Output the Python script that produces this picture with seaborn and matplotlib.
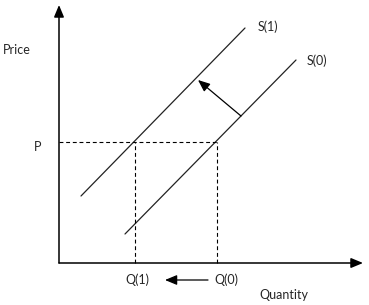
import matplotlib
matplotlib.use("Agg")
import matplotlib.pyplot as plt
import seaborn as sns
import pandas as pd

sns.set_theme(style="white")
plt.rcParams['font.family'] = ['Lato', 'DejaVu Sans']

# Diagram values (quantity, price) in arbitrary units
s0_q = [66, 237]
s0_p = [29, 203]
s1_q = [22, 186]
s1_p = [67, 235]
price_p = 121
q1 = 76
q0 = 158
shift_from = (182, 147)
shift_to = (139, 183)
axis_q_max = 304
axis_p_max = 258

df = pd.DataFrame({
    "Quantity": s0_q + s1_q,
    "Price": s0_p + s1_p,
    "curve": ["S(0)", "S(0)", "S(1)", "S(1)"],
})

fig = plt.figure(figsize=(3.69, 3.05), dpi=100)
ax = fig.add_axes([0, 0, 1, 1])
ax.set_xlim(-59, 310)
ax.set_ylim(-42, 263)
ax.axis("off")

sns.lineplot(data=df, x="Quantity", y="Price", units="curve", estimator=None,
             color="#222222", lw=0.9, ax=ax, legend=False)

# axes with arrows
ax.annotate("", xy=(0, axis_p_max), xytext=(0, 0),
            arrowprops=dict(arrowstyle="-|>,head_length=0.6,head_width=0.25", color="black", lw=1.1, shrinkA=0, shrinkB=0))
ax.annotate("", xy=(axis_q_max, 0), xytext=(0, 0),
            arrowprops=dict(arrowstyle="-|>,head_length=0.6,head_width=0.25", color="black", lw=1.1, shrinkA=0, shrinkB=0))

# dashed guides
ax.plot([0, q0], [price_p, price_p], ls=(0, (3.5, 2.5)), color="black", lw=0.8)
ax.plot([q1, q1], [0, price_p], ls=(0, (3.5, 2.5)), color="black", lw=0.8)
ax.plot([q0, q0], [0, price_p], ls=(0, (3.5, 2.5)), color="black", lw=0.8)

# shift arrow
ax.annotate("", xy=shift_to, xytext=shift_from,
            arrowprops=dict(arrowstyle="-|>,head_length=0.6,head_width=0.25", color="black", lw=0.9, shrinkA=0, shrinkB=0))
# quantity arrow
ax.annotate("", xy=(106, -17), xytext=(149, -17),
            arrowprops=dict(arrowstyle="-|>,head_length=0.6,head_width=0.25", color="black", lw=0.9, shrinkA=0, shrinkB=0))

fs = 9
ax.text(-56, 213, "Price", fontsize=fs, va="center", ha="left")
ax.text(-21, 116, "P", fontsize=fs, va="center", ha="center")
ax.text(199, 236, "S(1)", fontsize=fs, va="center", ha="left")
ax.text(248, 202, "S(0)", fontsize=fs, va="center", ha="left")
ax.text(q1 + 2, -17, "Q(1)", fontsize=fs, va="center", ha="center")
ax.text(q0 + 9, -17, "Q(0)", fontsize=fs, va="center", ha="center")
ax.text(225, -32, "Quantity", fontsize=fs, va="center", ha="center")

fig.savefig("out.png", dpi=100)
